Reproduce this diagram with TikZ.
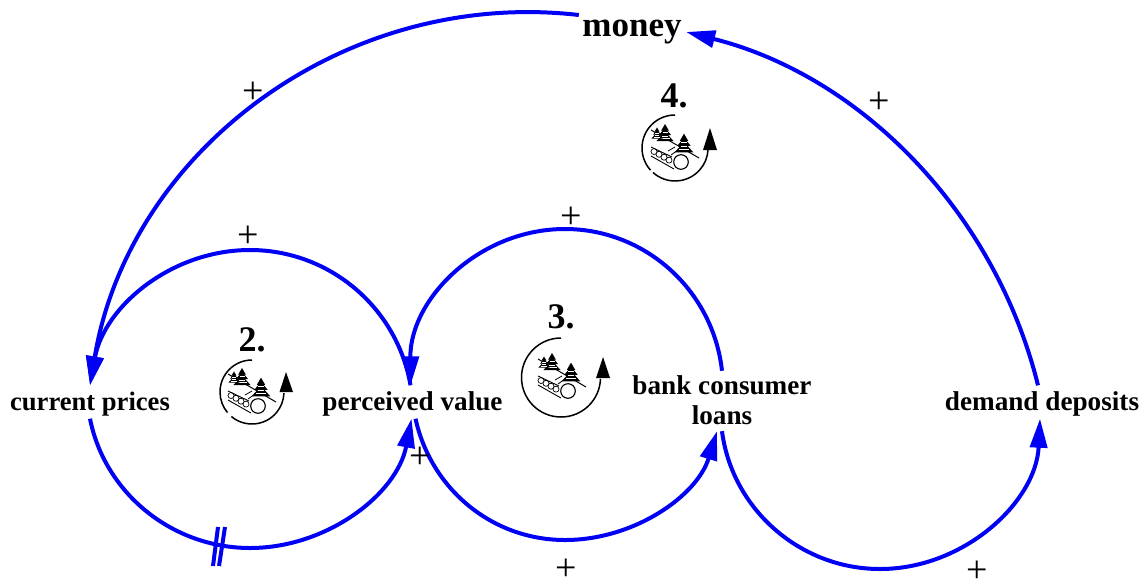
\documentclass[tikz,border=0pt]{standalone}
\usepackage{fontspec}
\setmainfont{Liberation Serif}
\usetikzlibrary{arrows.meta,calc}
\tikzset{
  x=1pt,y=-1pt,
  var/.style={font=\fontsize{27.2}{30}\selectfont\bfseries,inner sep=0pt,align=center,text height=21pt,text depth=5pt,minimum height=33pt},
  link/.style={draw=linkblue,line width=4pt,-{Triangle[length=29pt,width=17pt]}},
  plain/.style={draw=linkblue,line width=4pt},
  sign/.style={font=\fontsize{38}{38}\selectfont,inner sep=0pt},
  num/.style={font=\fontsize{36}{36}\selectfont\bfseries,inner sep=0pt},
  looparc/.style={line width=1.5pt,draw=black},
  treeshape/.pic={
    \fill (0,-8.5) -- (-3.8,-2) -- (3.8,-2) -- cycle;
    \fill (0,-5) -- (-6,2.5) -- (6,2.5) -- cycle;
    \fill (0,-1) -- (-8.5,8.5) -- (8.5,8.5) -- cycle;
    \draw[white,line width=.2pt] (-3,3.2) -- (3,3.2) (-4.5,5.8) -- (4.5,5.8) (-2.5,-.5) -- (2.5,-.5);
  },
  scene/.pic={
    \draw[line width=1pt] (-24,-18) -- (24,10);
    \path (-10,-15.5) pic[scale=1] {treeshape};
    \path (-18,-15) pic[scale=.65] {treeshape};
    \path (9,-5) pic[scale=1.1] {treeshape};
    \draw[line width=1.1pt] (6,14) circle (7.3);
    \draw[line width=.9pt] (-24,-1) -- (-3,9);
    \draw[line width=.9pt] (-24,8) -- (-1,21);
    \draw[line width=.7pt] (-21,3.5) circle (3) (-16,6.3) circle (3) (-11,9.2) circle (3) (-6,12.1) circle (3);
    \draw[line width=.8pt] (-7,3) -- (0,-1) (-4,7) -- (3,2);
  },
}
\definecolor{linkblue}{RGB}{0,0,245}
\begin{document}
\begin{tikzpicture}
\useasboundingbox[fill=white] (0,0) rectangle (1147,579);
% variables
\node[font=\fontsize{35}{35}\selectfont\bfseries,inner sep=0pt,minimum width=106pt,minimum height=36pt] (money) at (632,32) {money};
\node[var,font=\fontsize{26.6}{30}\selectfont\bfseries] (cp) at (90,402) {current prices};
\node[var] (pv) at (412.5,402) {perceived value};
\node[var,text height=50pt,text depth=3pt,minimum height=60pt] (bank) at (722,401) {bank consumer\\loans};
\node[var] (dd) at (1042,402) {demand deposits};
% money -> current prices
\draw[link] ([yshift=17pt]money.west) .. controls (344,-12) and (129,151) .. (cp.north);
% demand -> money
\draw[link] ([xshift=-4pt]dd.north) .. controls (995,212) and (861,76) .. ([yshift=0pt,xshift=1pt]money.east);
% perceived value -> current prices
\draw[plain] ([xshift=-2pt]pv.north) .. controls (397,307) and (329,250) .. (250,250);
\draw[link] (250,250) .. controls (171,250) and (104,307) .. (cp.north);
% current prices -> perceived value
\draw[plain] (cp.south) .. controls (105,494) and (173,548) .. (250,548);
\draw[link] (250,548) .. controls (327,548) and (397,494) .. ([xshift=-1pt]pv.south);
% bank -> perceived value
\draw[plain] (bank.north) .. controls (713,290) and (645,229) .. (565,229);
\draw[link] (565,229) .. controls (479,229) and (410,299) .. ([xshift=-2pt]pv.north);
% perceived value -> bank
\draw[plain] ([xshift=3pt]pv.south) .. controls (431,489) and (492,540) .. (565,540);
\draw[link] (565,540) .. controls (634,540) and (697,496) .. ([xshift=-5pt]bank.south);
% bank -> demand
\draw[plain] (bank.south) .. controls (732,509) and (800,569) .. (880,569);
\draw[link] (880,569) .. controls (964,569) and (1036,502) .. ([xshift=-2pt]dd.south);
% delay mark
\draw[draw=linkblue,line width=4pt] (218,527) -- (213,566) (225,527) -- (219,566);
% signs
\node[sign] (s1) at (253,93) {+};
\node[sign] (s2) at (879,103) {+};
\node[sign] (s3) at (248,237) {+};
\node[sign] (s4) at (571,218) {+};
\node[sign] (s5) at (420,458) {+};
\node[sign] (s6) at (566,570) {+};
\node[sign] (s7) at (977,571.5) {+};
% loop numbers
\node[num] (n2) at (252,340) {2.};
\node[num] (n3) at (561,317) {3.};
\node[num] (n4) at (674,96) {4.};
% loop 2 icon
\path (252,392) pic {scene};
\draw[looparc] (252,360) arc[start angle=-90,end angle=-220,radius=32];
\draw[looparc] (231.4,416.5) arc[start angle=-230,end angle=-358,radius=32];
\fill (286,372) -- (279.5,392) -- (293,392) -- cycle;
% loop 3 icon
\path (562,377) pic {scene};
\draw[looparc] (561,338) arc[start angle=-90,end angle=-358,radius=39.5];
\fill (603,357) -- (596,378) -- (610,378) -- cycle;
% loop 4 icon
\path (675,148) pic {scene};
\draw[looparc] (675,115) arc[start angle=-90,end angle=-222,radius=33];
\draw[looparc] (653,172.5) arc[start angle=-228,end angle=-358,radius=33];
\fill (710,128) -- (703,150) -- (717,150) -- cycle;
\end{tikzpicture}
\end{document}
